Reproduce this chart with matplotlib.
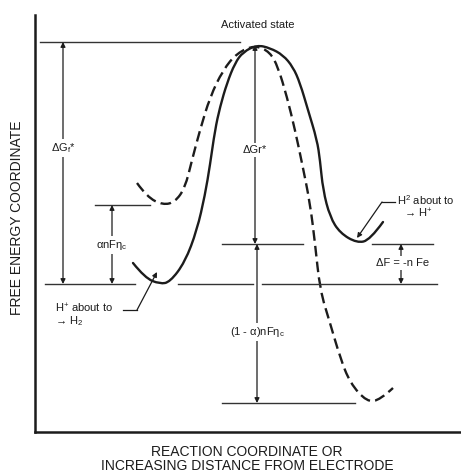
import matplotlib.pyplot as plt
from matplotlib.path import Path
from matplotlib.patches import PathPatch

plt.rcParams['font.family'] = ['Liberation Sans', 'DejaVu Sans']
plt.rcParams['mathtext.fontset'] = 'custom'
plt.rcParams['mathtext.rm'] = 'Liberation Sans'
plt.rcParams['mathtext.it'] = 'Liberation Sans:italic'

INK = '#1c1c1c'

# ------------------------------------------------------------
# Curve traces (reaction coordinate, free energy)
# ------------------------------------------------------------

# solid curve: H+ -> H2 at equilibrium
solid_x = [98, 110, 125, 135, 150, 162, 170, 175, 180, 185, 192, 200, 208, 222,
           235, 248, 258, 265, 273, 282, 285, 288, 295, 305, 322, 335, 348]
solid_y = [169, 154, 148, 150, 170, 202, 237, 267, 302, 325, 349, 369, 380, 387,
           384, 377, 365, 349, 322, 292, 272, 242, 215, 199, 189, 192, 210]

# dashed curve: with overpotential applied
dash_x = [102, 112, 128, 140, 150, 157, 165, 175, 188, 202, 220, 235, 243, 252,
          260, 267, 275, 280, 285, 295, 305, 315, 332, 345, 358]
dash_y = [249, 235, 227, 230, 244, 272, 302, 335, 362, 379, 387, 380, 365, 335,
          302, 269, 229, 189, 142, 109, 75, 49, 30, 32, 44]

# energy levels
activated_level = 390
peak_level = 387
dashed_left_min = 227
solid_left_min = 148
solid_right_min = 188
dashed_right_min = 29

# horizontal guide segments: (level, x_start, x_end)
guides = [
    (activated_level, 5, 205),
    (dashed_left_min, 60, 115),
    (solid_left_min, 10, 100),
    (solid_left_min, 143, 218),
    (solid_left_min, 227, 402),
    (solid_right_min, 187, 268),
    (solid_right_min, 337, 398),
    (dashed_right_min, 187, 320),
]

# double-headed dimension arrows: (x, y_top, y_bottom, label, label_x, label_y)
dims = [
    (28, activated_level, solid_left_min, 'ΔG$_\\mathregular{f}$*', 28, 284),
    (77, dashed_left_min, solid_left_min, 'αnFη$_\\mathregular{c}$', 77, 187),
    (220, peak_level, solid_right_min, 'ΔGr*', 220, 282),
    (222, solid_right_min, dashed_right_min, '(1 - α)nFη$_\\mathregular{c}$', 222, 100),
    (366, solid_right_min, solid_left_min, 'ΔF = -n Fe', 368, 169),
]


def smooth_path(xs, ys):
    """Quadratic segments through the midpoints of the traced points."""
    pts = list(zip(xs, ys))
    verts = [pts[0]]
    codes = [Path.MOVETO]
    for i in range(1, len(pts) - 1):
        mid = ((pts[i][0] + pts[i + 1][0]) / 2, (pts[i][1] + pts[i + 1][1]) / 2)
        if i == len(pts) - 2:
            mid = pts[-1]
        verts += [pts[i], mid]
        codes += [Path.CURVE3, Path.CURVE3]
    return Path(verts, codes)


fig = plt.figure(figsize=(4.61, 4.72), dpi=100)
ax = fig.add_axes([35 / 461, 40 / 472, 425 / 461, 417 / 472])
ax.set_xlim(0, 425)
ax.set_ylim(0, 417)
ax.set_xticks([])
ax.set_yticks([])
for side in ['top', 'right']:
    ax.spines[side].set_visible(False)
for side in ['left', 'bottom']:
    ax.spines[side].set_linewidth(1.8)
    ax.spines[side].set_color(INK)

# curves
ax.add_patch(PathPatch(smooth_path(solid_x, solid_y), fill=False,
                       edgecolor=INK, lw=1.7, capstyle='round'))
ax.add_patch(PathPatch(smooth_path(dash_x, dash_y), fill=False,
                       edgecolor=INK, lw=1.7, linestyle=(0, (4.5, 2.2))))

# level lines
for lvl, x0, x1 in guides:
    ax.plot([x0, x1], [lvl, lvl], color='#333333', lw=1.0)

# dimension arrows with labels
for x, y0, y1, lab, lx, ly in dims:
    ax.annotate('', xy=(x, y0), xytext=(x, y1),
                arrowprops=dict(arrowstyle='<|-|>', color=INK, lw=0.9,
                                mutation_scale=7, shrinkA=0, shrinkB=0))
    ax.text(lx, ly, lab, ha='center', va='center', fontsize=8, color=INK,
            bbox=dict(facecolor='white', edgecolor='none', pad=1.5))

# annotations
ax.text(223, 407, 'Activated state', ha='center', va='center', fontsize=8,
        color=INK)

ax.text(20, 124, 'H$^\\mathregular{+}$ about to', ha='left', va='center',
        fontsize=8, color=INK)
ax.text(20, 111, '→ H$_\\mathregular{2}$', ha='left', va='center',
        fontsize=8, color=INK)
ax.plot([88, 102], [122, 122], color=INK, lw=0.9)
ax.annotate('', xy=(122, 160), xytext=(102, 122),
            arrowprops=dict(arrowstyle='-|>', color=INK, lw=0.9,
                            mutation_scale=7, shrinkA=0, shrinkB=0))

ax.text(362, 232, 'H$^\\mathregular{2}$ about to', ha='left', va='center',
        fontsize=8, color=INK)
ax.text(369, 219, '→ H$^\\mathregular{+}$', ha='left', va='center',
        fontsize=8, color=INK)
ax.plot([347, 360], [230, 230], color=INK, lw=0.9)
ax.annotate('', xy=(322, 194), xytext=(347, 230),
            arrowprops=dict(arrowstyle='-|>', color=INK, lw=0.9,
                            mutation_scale=7, shrinkA=0, shrinkB=0))

# axis titles
fig.text(17 / 461, 1 - 218 / 472, 'FREE ENERGY COORDINATE', rotation=90,
         ha='center', va='center', fontsize=10, color=INK)
fig.text(247 / 461, 1 - 459 / 472,
         'REACTION COORDINATE OR\nINCREASING DISTANCE FROM ELECTRODE',
         ha='center', va='center', fontsize=10, color=INK, linespacing=0.95)

fig.savefig('out.png', dpi=100)
